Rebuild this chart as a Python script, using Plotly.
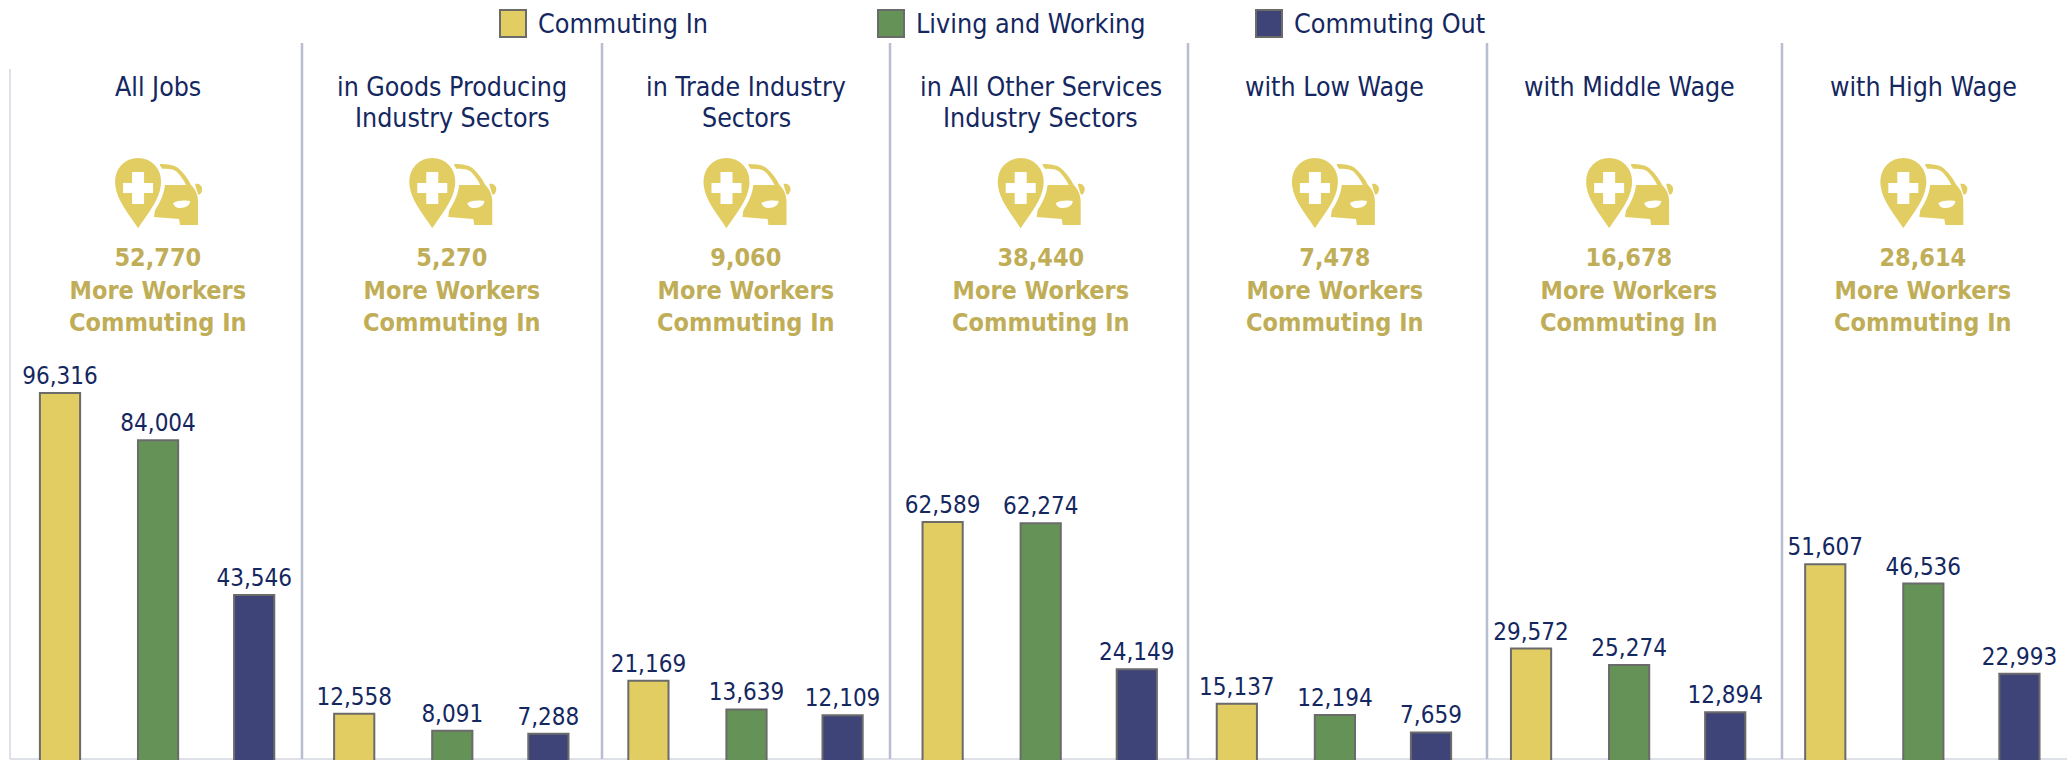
import plotly.graph_objects as go

panels = ["All Jobs", "in Goods Producing<br>Industry Sectors", "in Trade Industry<br>Sectors",
          "in All Other Services<br>Industry Sectors", "with Low Wage", "with Middle Wage", "with High Wage"]
net_in = [52770, 5270, 9060, 38440, 7478, 16678, 28614]
series_names = ["Commuting In", "Living and Working", "Commuting Out"]
commuting_in = [96316, 12558, 21169, 62589, 15137, 29572, 51607]
living_working = [84004, 8091, 13639, 62274, 12194, 25274, 46536]
commuting_out = [43546, 7288, 12109, 24149, 7659, 12894, 22993]
colors = ["#E2CD63", "#659256", "#3F4478"]
NAVY = "#14275F"
GOLD = "#BFAE57"
FONT = "DejaVu Sans Condensed, DejaVu Sans"
W, H = 2067, 760
AXIS_Y = 759
ZERO_Y = 761.7
PX_PER_UNIT = 0.003828
STEP = 98.07
X0 = 60.0


def px(x):
    return (x - 10) / (W - 10)


def py(y):
    return (H - y) / H


def flip(path):
    """Paths below are written with y pointing down; pixel-sized shapes have y pointing up."""
    out, is_y = [], False
    for tok in path.split():
        if tok.isalpha():
            out.append(tok)
            is_y = False
        else:
            out.append(str(-float(tok)) if is_y else tok)
            is_y = not is_y
    return " ".join(out)


fig = go.Figure()
for k, (name, vals, col, off) in enumerate(zip(series_names, [commuting_in, living_working, commuting_out],
                                               colors, [0, 1.0, 1.98])):
    fig.add_trace(go.Bar(
        x=[3 * i + off for i in range(7)], y=vals, name=name, width=0.41,
        marker=dict(color=col, line=dict(color="#6B6B6B", width=2)),
        text=[f"{v:,}" for v in vals], textposition="outside", cliponaxis=False,
        constraintext="none", showlegend=False,
        textfont=dict(family=FONT, size=24, color=NAVY),
    ))

dividers = [302, 602, 890, 1188, 1487, 1782]
shapes = [
    dict(type="line", xref="paper", yref="paper", x0=0, x1=1, y0=py(AXIS_Y), y1=py(AXIS_Y), layer="below",
         line=dict(color="#D5D7E0", width=1.5)),
    dict(type="line", xref="paper", yref="paper", x0=0, x1=0, y0=py(AXIS_Y), y1=py(69),
         line=dict(color="#D5D7E0", width=1.5)),
]
for d in dividers:
    shapes.append(dict(type="line", xref="paper", yref="paper", x0=px(d), x1=px(d), y0=py(AXIS_Y), y1=py(43),
                       line=dict(color="#B9BDD0", width=2.5)))

CAR = ("M 22 -30 C 30 -30 36 -29 40 -26 C 46 -21 50 -15 53 -9 C 57 -5 60 0 60 8 L 60 31 L 42 31 L 41 25 "
       "L 16 23 L 20 -10 L 22 -30 Z")
WINDOW = "M 18 -25 C 30 -26 36 -25 39 -22 C 43 -18 46 -13 48 -9 L 18 -9 Z"
MIRROR = "M 57 -10 C 60 -11 64 -9 64 -5 C 64 -1 61 2 60 0 C 59 -3 58 -6 57 -10 Z"
LAMP = "M 35 9 C 39 6 48 6 52 7 C 52 11 48 14 42 14 C 38 14 36 12 35 9 Z"
PIN = "M 0 -38 C 15 -38 25 -26 25 -12 C 25 6 10 22 0 38 C -10 22 -25 6 -25 -12 C -25 -26 -15 -38 0 -38 Z"
CROSS = "M -6 -22 L 6 -22 L 6 -11 L 15 -11 L 15 -1 L 6 -1 L 6 10 L -6 10 L -6 -1 L -15 -1 L -15 -11 L -6 -11 Z"

annotations = []
for i, (p, n) in enumerate(zip(panels, net_in)):
    cx = 3 * i + 1
    for j, line in enumerate(p.split("<br>")):
        annotations.append(dict(x=cx, xref="x", y=py(86 + 31.5 * j), yref="paper", yanchor="middle",
                                showarrow=False, text=line, font=dict(family=FONT, size=26.5, color=NAVY)))
    annotations.append(dict(x=cx, xref="x", y=py(241), yref="paper", yanchor="top", showarrow=False,
                            text=f"<b>{n:,}<br>More Workers<br>Commuting In</b>",
                            font=dict(family=FONT, size=25, color=GOLD), align="center"))
    layers = [(CAR, colors[0], 0), (MIRROR, colors[0], 0), (WINDOW, "#FFFFFF", 0), (LAMP, "#FFFFFF", 0),
              (PIN, colors[0], 4), (CROSS, "#FFFFFF", 0)]
    for path, col, lw in layers:
        shapes.append(dict(type="path", xref="x", yref="paper", xsizemode="pixel", ysizemode="pixel",
                           xanchor=cx - 20 / STEP, yanchor=py(194), path=flip(path), fillcolor=col,
                           line=dict(width=lw, color="#FFFFFF")))

legend_x = [500, 878, 1256]
for name, col, lx in zip(series_names, colors, legend_x):
    shapes.append(dict(type="rect", xref="paper", yref="paper", x0=px(lx), x1=px(lx + 26), y0=py(37), y1=py(10),
                       fillcolor=col, line=dict(color="#6B6B6B", width=2)))
    annotations.append(dict(x=px(lx + 36), xref="paper", xanchor="left", y=py(24), yref="paper", yanchor="middle",
                            showarrow=False, text=name, font=dict(family=FONT, size=26.7, color=NAVY)))

fig.update_layout(
    width=W, height=H, autosize=False, template=None, barmode="overlay",
    margin=dict(l=10, r=0, t=0, b=0), paper_bgcolor="white", plot_bgcolor="white",
    xaxis=dict(range=[(10 - X0) / STEP, (W - X0) / STEP], showgrid=False, zeroline=False, showticklabels=False,
               showline=False, fixedrange=True, ticks=""),
    yaxis=dict(range=[(ZERO_Y - H) / PX_PER_UNIT, ZERO_Y / PX_PER_UNIT], showgrid=False, zeroline=False,
               visible=False, fixedrange=True),
    showlegend=False, shapes=shapes, annotations=annotations,
)
fig.write_html("out.html", config=dict(displayModeBar=False),
               post_script="document.body.style.margin='0';document.body.style.overflow='hidden';")
